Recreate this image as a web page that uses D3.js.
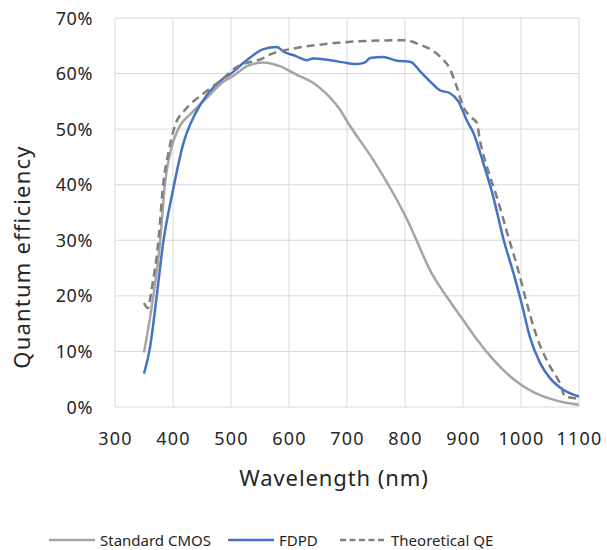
<!DOCTYPE html>
<html>
<head>
<meta charset="utf-8">
<script src="https://cdn.jsdelivr.net/npm/d3@7"></script>
<style>
  body { margin: 0; background: #fff; }
  text { font-family: "Noto Sans", "Open Sans", sans-serif; fill: #262626; }
</style>
</head>
<body>
<div id="chart"></div>
<script>
// values (wavelength nm, QE %)
const cmosWl = [350, 366, 378, 386, 398, 409, 432, 461, 484, 507, 527, 556, 585, 613, 642, 660, 688, 702, 745, 800, 849, 875, 900, 925, 950, 975, 1000, 1025, 1050, 1075, 1100];
const cmosQe = [9.8, 19.9, 30, 40, 46.9, 50, 52.9, 55.9, 58.3, 59.8, 61.3, 62, 61.3, 59.8, 58.3, 56.8, 53.5, 51.1, 44.5, 34.5, 23.5, 19.4, 15.7, 12, 8.8, 6.1, 4, 2.5, 1.5, 0.8, 0.4];

const fdpdWl = [350, 360, 372, 383, 399, 418, 438, 461, 484, 500, 527, 556, 579, 590, 613, 630, 642, 671, 700, 717, 731, 740, 762, 786, 810, 826, 843, 860, 877, 892, 906, 918, 935, 952, 970, 987, 1001, 1015, 1033, 1050, 1073, 1100];
const fdpdQe = [6, 10.5, 20, 29.5, 38.5, 47.5, 52.7, 56.5, 58.9, 60, 62.4, 64.4, 64.8, 64, 63.1, 62.4, 62.7, 62.4, 61.9, 61.7, 62, 62.8, 63, 62.3, 62.1, 60.4, 58.6, 57, 56.5, 55, 51.7, 49.3, 43.9, 37.9, 30.1, 24.1, 18.7, 12.7, 7.9, 5.2, 3.1, 1.9];

const theoWl = [350, 357, 363, 375, 383, 392, 403, 421, 450, 484, 507, 556, 567, 613, 671, 740, 800, 826, 845, 860, 878, 889, 900, 912, 924, 929, 941, 958, 978, 995, 1010, 1027, 1050, 1067, 1076, 1091, 1098];
const theoQe = [18.7, 17.8, 21.1, 30, 40, 45.7, 50.5, 53.5, 56.2, 58.9, 61, 62.8, 63.4, 64.6, 65.4, 65.9, 66, 65.2, 64.3, 63.1, 60.7, 57.7, 54.1, 52.3, 51.1, 48.1, 43.3, 37.9, 30.7, 24.7, 18.7, 12.7, 7.3, 4.3, 1.9, 1.6, 1.5];

const xTicks = [300, 400, 500, 600, 700, 800, 900, 1000, 1100];
const yTicks = [0, 10, 20, 30, 40, 50, 60, 70];

const seriesNames = ["Standard CMOS", "FDPD", "Theoretical QE"];
const seriesColors = ["#a5a5a5", "#4472c4", "#7f7f7f"];

const width = 607, height = 550;
const margin = { top: 18, right: 28, bottom: 143, left: 115 };

const svg = d3.select('#chart').append('svg').attr('width', width).attr('height', height);

const x = d3.scaleLinear().domain([300, 1100]).range([margin.left, width - margin.right]);
const y = d3.scaleLinear().domain([0, 70]).range([height - margin.bottom, margin.top]);

// grid
svg.append('g').selectAll('line').data(xTicks).enter().append('line')
  .attr('x1', d => x(d)).attr('x2', d => x(d))
  .attr('y1', y(0)).attr('y2', y(70))
  .attr('stroke', '#d9d9d9').attr('stroke-width', 1);
svg.append('g').selectAll('line').data(yTicks).enter().append('line')
  .attr('x1', x(300)).attr('x2', x(1100))
  .attr('y1', d => y(d)).attr('y2', d => y(d))
  .attr('stroke', '#d9d9d9').attr('stroke-width', 1);

// tick labels (ref font is wider, so a little letter spacing)
svg.append('g').selectAll('text').data(yTicks).enter().append('text')
  .attr('x', x(300) - 22).attr('y', d => y(d) + 6.5)
  .attr('text-anchor', 'end').attr('font-size', 18).attr('letter-spacing', 0.6)
  .text(d => d + '%');
svg.append('g').selectAll('text').data(xTicks).enter().append('text')
  .attr('x', d => x(d) + 0.6).attr('y', y(0) + 38)
  .attr('text-anchor', 'middle').attr('font-size', 18).attr('letter-spacing', 1.2)
  .text(d => d);

// axis titles
svg.append('text').attr('x', 334).attr('y', 486)
  .attr('text-anchor', 'middle').attr('font-size', 22).attr('letter-spacing', 0.9)
  .text('Wavelength (nm)');
svg.append('text').attr('transform', 'translate(30,257) rotate(-90)')
  .attr('text-anchor', 'middle').attr('font-size', 22).attr('letter-spacing', 1.2)
  .text('Quantum efficiency');

// lines
const line = d3.line().x(d => x(d[0])).y(d => y(d[1])).curve(d3.curveMonotoneX);
const series = [
  { wl: cmosWl, qe: cmosQe, dash: null },
  { wl: fdpdWl, qe: fdpdQe, dash: null },
  { wl: theoWl, qe: theoQe, dash: '8,5' }
];
series.forEach((s, i) => {
  svg.append('path')
    .datum(d3.zip(s.wl, s.qe))
    .attr('d', line)
    .attr('fill', 'none')
    .attr('stroke', seriesColors[i])
    .attr('stroke-width', 2.5)
    .attr('stroke-dasharray', s.dash);
});

// legend
const legendX = [49, 228, 340];
const leg = svg.append('g').selectAll('g').data(seriesNames).enter().append('g')
  .attr('transform', (d, i) => `translate(${legendX[i]},540)`);
leg.append('line').attr('x1', 0).attr('x2', 46).attr('y1', 0).attr('y2', 0)
  .attr('stroke', (d, i) => seriesColors[i]).attr('stroke-width', 2.5)
  .attr('stroke-dasharray', (d, i) => i === 2 ? '6,3.5' : null);
leg.append('text').attr('x', 51).attr('y', 5.5).attr('font-size', 15)
  .text(d => d);
</script>
</body>
</html>
